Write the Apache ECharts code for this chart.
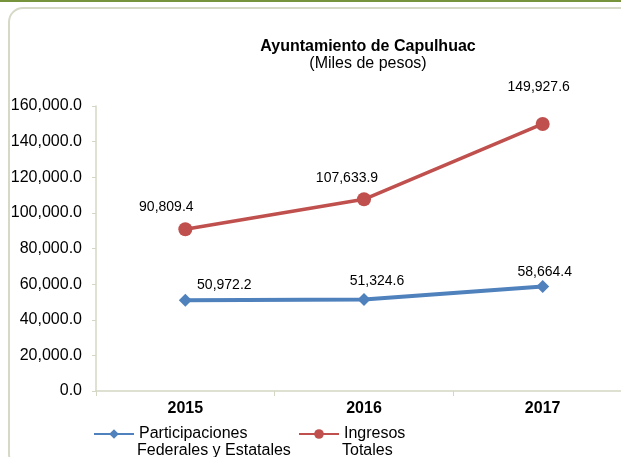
<!DOCTYPE html>
<html>
<head>
<meta charset="utf-8">
<script src="https://cdn.jsdelivr.net/npm/echarts@6/dist/echarts.min.js"></script>
<style>
  html, body { margin: 0; padding: 0; background: #fff; overflow: hidden; }
  #chart { width: 640px; height: 457px; }
</style>
</head>
<body>
<div id="chart"></div>
<script>
// datos del grafico
var years = ['2015', '2016', '2017'];
var participaciones = [50972.2, 51324.6, 58664.4];
var ingresos = [90809.4, 107633.9, 149927.6];
var yTicks = [0, 20000, 40000, 60000, 80000, 100000, 120000, 140000, 160000];

var nomPart = 'Participaciones\nFederales y Estatales';
var nomIng = 'Ingresos\nTotales';

var font = '"Liberation Sans", Arial, sans-serif';

function fmt(v) {
  return v.toLocaleString('en-US', {minimumFractionDigits: 1, maximumFractionDigits: 1});
}

// desplazamiento de etiquetas
var offPart = [[39, -15], [13, -18], [2, -14]];
var offIng = [[-19, -22], [-17, -21], [-4, -37]];

function puntos(vals, offs) {
  var out = [];
  for (var i = 0; i < vals.length; i++) {
    out.push({ value: vals[i], label: { offset: offs[i] } });
  }
  return out;
}

// solo la primera linea en la leyenda, la segunda va como texto aparte
function primeraLinea(n) { return n.split('\n')[0]; }
function segundaLinea(n) { return n.split('\n')[1]; }

var legText = { fontFamily: font, fontSize: 16, color: '#000' };

var myChart = echarts.init(document.getElementById('chart'));
var option = {
  backgroundColor: '#ffffff',
  animation: false,
  title: {
    text: 'Ayuntamiento de Capulhuac',
    subtext: '(Miles de pesos)',
    left: 363,
    textAlign: 'center',
    top: 34,
    itemGap: 1,
    textStyle: { fontFamily: font, fontSize: 16, fontWeight: 'bold', color: '#000' },
    subtextStyle: { fontFamily: font, fontSize: 16, color: '#000' }
  },
  graphic: [
    { type: 'rect', shape: { x: 0, y: 0, width: 640, height: 2 }, style: { fill: '#77933C' } },
    { type: 'rect', shape: { x: 9, y: 8, width: 660, height: 460, r: 14 },
      style: { fill: null, stroke: '#D6D9C6', lineWidth: 2 } },
    { type: 'text', left: 137, top: 443, style: { text: segundaLinea(nomPart), font: '16px ' + font, fill: '#000' } },
    { type: 'text', left: 342, top: 443, style: { text: segundaLinea(nomIng), font: '16px ' + font, fill: '#000' } }
  ],
  legend: [
    {
      data: [nomPart], left: 93, top: 426, padding: 0, itemWidth: 40, itemHeight: 12,
      formatter: primeraLinea, textStyle: legText
    },
    {
      data: [nomIng], left: 298, top: 426, padding: 0, itemWidth: 40, itemHeight: 12,
      formatter: primeraLinea, textStyle: legText
    }
  ],
  grid: { left: 96, top: 106, width: 536, height: 285, containLabel: false },
  xAxis: {
    type: 'category',
    data: years,
    boundaryGap: true,
    axisLine: { lineStyle: { color: '#D4D7C3', width: 1.5 } },
    axisTick: { show: true, length: 5, lineStyle: { color: '#D4D7C3' } },
    axisLabel: { fontFamily: font, fontSize: 16, fontWeight: 'bold', color: '#000', margin: 10 },
    splitLine: { show: false }
  },
  yAxis: {
    type: 'value',
    min: yTicks[0],
    max: yTicks[yTicks.length - 1],
    interval: yTicks[1] - yTicks[0],
    axisLine: { show: true, lineStyle: { color: '#D4D7C3', width: 1.5 } },
    axisTick: { show: true, length: 4, lineStyle: { color: '#D4D7C3' } },
    axisLabel: { fontFamily: font, fontSize: 16, color: '#000', margin: 14, formatter: fmt },
    splitLine: { show: false }
  },
  series: [
    {
      name: nomPart,
      type: 'line',
      data: puntos(participaciones, offPart),
      symbol: 'diamond',
      symbolSize: 13,
      lineStyle: { color: '#4F81BD', width: 4 },
      itemStyle: { color: '#4F81BD' },
      label: {
        show: true, position: 'inside', color: '#000', fontFamily: font, fontSize: 14,
        formatter: function (p) { return fmt(p.value); }
      }
    },
    {
      name: nomIng,
      type: 'line',
      data: puntos(ingresos, offIng),
      symbol: 'circle',
      symbolSize: 14,
      lineStyle: { color: '#C0504D', width: 3.5 },
      itemStyle: { color: '#C0504D' },
      label: {
        show: true, position: 'inside', color: '#000', fontFamily: font, fontSize: 14,
        formatter: function (p) { return fmt(p.value); }
      }
    }
  ]
};
myChart.setOption(option);
</script>
</body>
</html>
